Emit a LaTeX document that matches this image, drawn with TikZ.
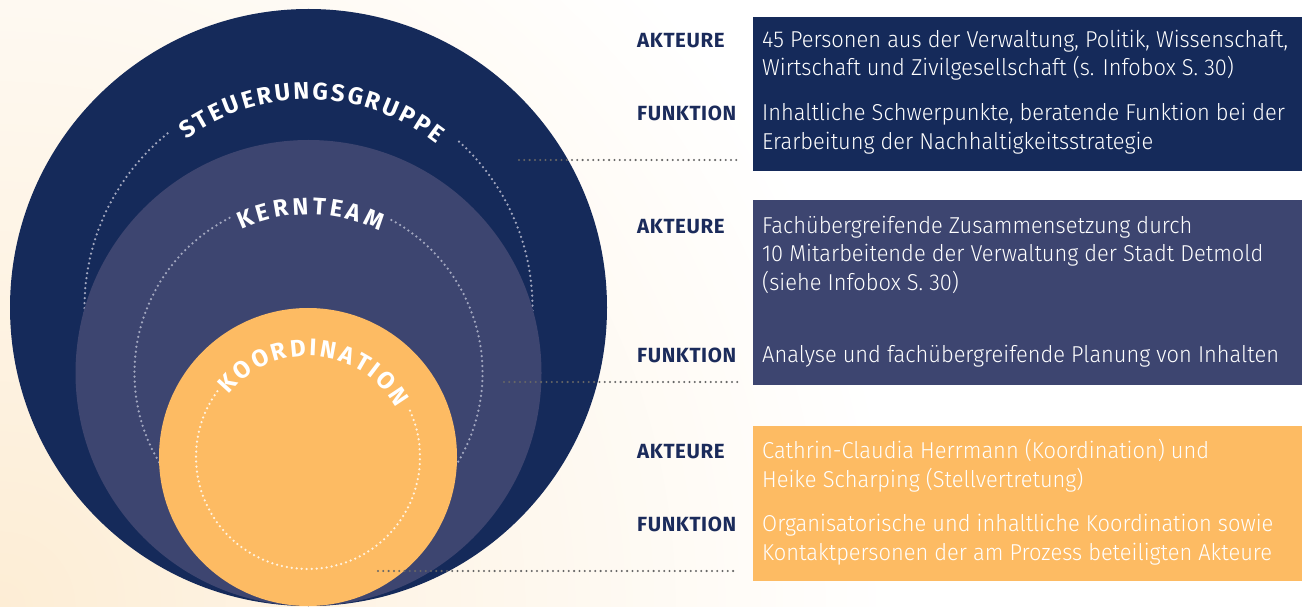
\documentclass[tikz,border=0pt]{standalone}
\usepackage{fontspec}
\setmainfont{Fira Sans}
\newfontfamily\boxfnt{Fira Sans}[UprightFont=* Light, FakeStretch=0.95]
\newfontfamily\labfnt{Fira Sans}[LetterSpace=3]
\usetikzlibrary{decorations.text}
\definecolor{navy}{HTML}{152A5A}
\definecolor{kern}{HTML}{3D4570}
\definecolor{koor}{HTML}{FDBB63}
\definecolor{labc}{HTML}{1B2B5B}
\definecolor{dotg}{HTML}{A3A8C0}
\definecolor{dotw}{HTML}{FFF3E0}
\definecolor{conn}{HTML}{666666}
\definecolor{cream}{HTML}{FDEDD5}
\newcommand\arcfnt{\fontsize{24}{28}\selectfont\bfseries\color{white}}
\begin{document}
\begin{tikzpicture}[x=1pt,y=1pt,
  dotline/.style={line width=2.5pt, dash pattern=on 0pt off 5pt, line cap=round},
  boxtxt/.style={anchor=base west, inner sep=0pt, text=white, font=\boxfnt\fontsize{23}{28}\selectfont},
  lab/.style={anchor=base west, inner sep=0pt, text=labc, font=\labfnt\bfseries\fontsize{20.5}{24}\selectfont},
  panel/.style={anchor=north west, inner sep=0pt, minimum width=549pt, draw=none}]
\useasboundingbox (0,0) rectangle (1302,606);
\begin{scope}
\clip (0,0) rectangle (1302,606);
\shade[inner color=cream, outer color=white] (0,0) circle (900);
% circles
\coordinate (Sc) at (308.5,298.5);
\coordinate (Kc) at (308.5,233);
\coordinate (Oc) at (308,149);
\fill[navy] (Sc) circle (298.5);
\draw[dotline, dotg] ([shift={(129:224)}]Sc) arc[start angle=129, end angle=409, radius=224];
\path[decorate, decoration={text along path, text={|\arcfnt|STEUERUNGSGRUPPE}, text align=fit to path}]
  ([shift={(126:208)}]Sc) arc[start angle=126, end angle=52, radius=208];
\fill[kern] (Kc) circle (233);
\draw[dotline, dotg] ([shift={(117:174)}]Kc) arc[start angle=117, end angle=422, radius=174];
\path[decorate, decoration={text along path, text={|\arcfnt|KERNTEAM}, text align=fit to path}]
  ([shift={(115:158.5)}]Kc) arc[start angle=115, end angle=63.5, radius=158.5];
\fill[koor] (Oc) circle (149);
\draw[dotline, dotw] ([shift={(144:112)}]Oc) arc[start angle=144, end angle=386, radius=112];
\path[decorate, decoration={text along path, text={|\arcfnt|KOORDINATION}, text align=fit to path}]
  ([shift={(142:101)}]Oc) arc[start angle=142, end angle=29, radius=101];
\end{scope}
% connectors
\coordinate (a1) at (519,446); \coordinate (e1) at (737,446);
\coordinate (a2) at (504,224); \coordinate (e2) at (738,224);
\coordinate (a3) at (378,35);  \coordinate (e3) at (738,35);
\draw[dotline, conn, line width=2.3pt, dash pattern=on 0pt off 5.3pt] (a1) -- (e1);
\draw[dotline, conn, line width=2.3pt, dash pattern=on 0pt off 5.3pt] (a2) -- (e2);
\draw[dotline, conn, line width=2.3pt, dash pattern=on 0pt off 5.3pt] (a3) -- (e3);
% panels
\node[panel, fill=navy, minimum height=154pt] (p1) at (753,589) {};
\node[panel, fill=kern, minimum height=185pt] (p2) at (753,406) {};
\node[panel, fill=koor, minimum height=155pt] (p3) at (753,180) {};
% labels
\node[lab] (l1a) at (637,558) {AKTEURE};
\node[lab] (l1f) at (637,485) {FUNKTION};
\node[lab] (l2a) at (637,372) {AKTEURE};
\node[lab] (l2f) at (637,243) {FUNKTION};
\node[lab] (l3a) at (637,148) {AKTEURE};
\node[lab] (l3f) at (637,75) {FUNKTION};
% texts
\node[boxtxt] (t11) at (762,558) {45 Personen aus der Verwaltung, Politik, Wissenschaft,};
\node[boxtxt] (t12) at (762,530) {Wirtschaft und Zivilgesellschaft (s. Infobox S. 30)};
\node[boxtxt] (t13) at (762,485) {Inhaltliche Schwerpunkte, beratende Funktion bei der};
\node[boxtxt] (t14) at (762,456) {Erarbeitung der Nachhaltigkeitsstrategie};
\node[boxtxt] (t21) at (762,372) {Fachübergreifende Zusammensetzung durch};
\node[boxtxt] (t22) at (762,344) {10 Mitarbeitende der Verwaltung der Stadt Detmold};
\node[boxtxt] (t23) at (762,315) {(siehe Infobox S. 30)};
\node[boxtxt] (t24) at (762,243) {Analyse und fachübergreifende Planung von Inhalten};
\node[boxtxt] (t31) at (762,148) {Cathrin-Claudia Herrmann (Koordination) und};
\node[boxtxt] (t32) at (762,119) {Heike Scharping (Stellvertretung)};
\node[boxtxt] (t33) at (762,75) {Organisatorische und inhaltliche Koordination sowie};
\node[boxtxt] (t34) at (762,46) {Kontaktpersonen der am Prozess beteiligten Akteure};
\end{tikzpicture}
\end{document}
